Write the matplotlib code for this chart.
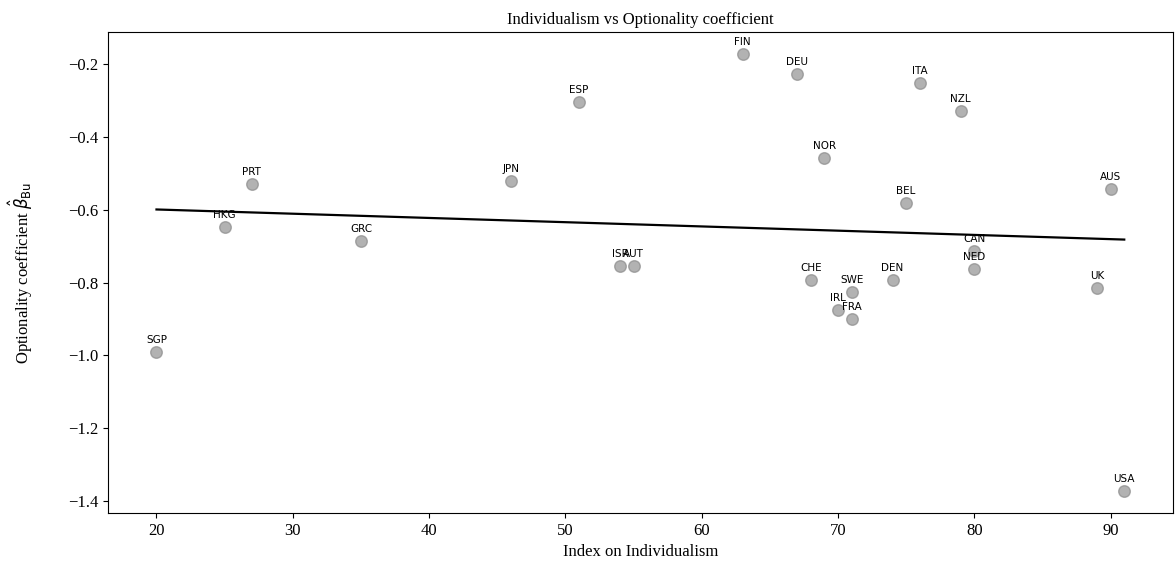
import numpy as np
import matplotlib
matplotlib.use("Agg")
import matplotlib.pyplot as plt

countries = ["SGP", "HKG", "PRT", "GRC", "JPN", "ESP", "ISR", "AUT", "FIN",
             "DEU", "CHE", "NOR", "IRL", "SWE", "FRA", "DEN", "BEL", "ITA",
             "NZL", "CAN", "NED", "UK", "AUS", "USA"]
individualism = [20, 25, 27, 35, 46, 51, 54, 55, 63,
                 67, 68, 69, 70, 71, 71, 74, 75, 76,
                 79, 80, 80, 89, 90, 91]
beta_bu = [-0.991, -0.648, -0.529, -0.686, -0.521, -0.304, -0.755, -0.755, -0.173,
           -0.227, -0.793, -0.458, -0.875, -0.826, -0.900, -0.793, -0.582, -0.252,
           -0.329, -0.713, -0.763, -0.815, -0.543, -1.372]

plt.rcParams["font.family"] = ["Liberation Serif", "DejaVu Serif"]
plt.rcParams["font.size"] = 12

x = np.array(individualism, dtype=float)
y = np.array(beta_bu)

fig, ax = plt.subplots(figsize=(11.75, 5.75), dpi=100)
fig.subplots_adjust(left=0.092, right=0.998, top=0.944, bottom=0.108)

ax.scatter(x, y, s=70, color="gray", alpha=0.6, zorder=3)
for name, xi, yi in zip(countries, x, y):
    ax.annotate(name, (xi, yi), xytext=(0, 5), textcoords="offset points",
                ha="center", va="bottom", fontsize=7.5, family="DejaVu Sans")

# least-squares fit line
slope, intercept = np.polyfit(x, y, 1)
ax.plot(x, slope * x + intercept, color="black", lw=1.6)

ax.set_title("Individualism vs Optionality coefficient", fontsize=12)
ax.set_xlabel("Index on Individualism", fontsize=12)
ax.set_ylabel(r"Optionality coefficient $\hat{\beta}_{\mathrm{Bu}}$", fontsize=12,
              labelpad=24)

fig.savefig("out.png", dpi=100)
